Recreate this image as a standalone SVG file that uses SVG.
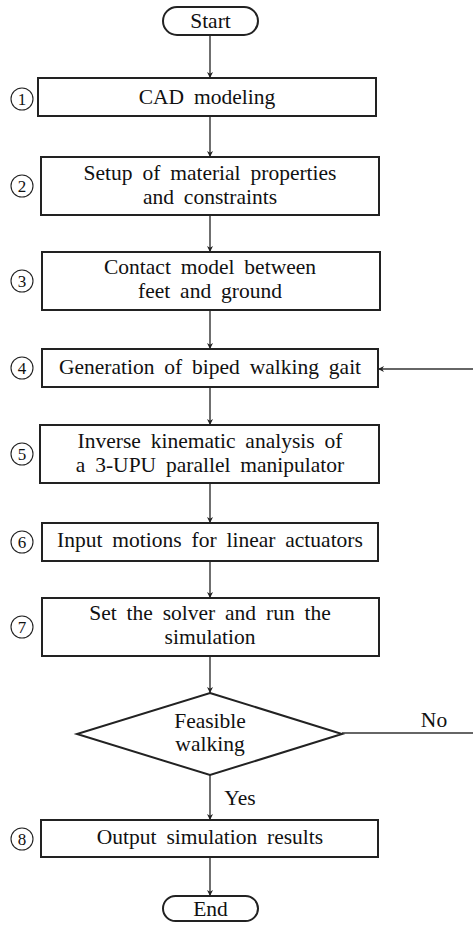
<svg xmlns="http://www.w3.org/2000/svg" width="473" height="925" viewBox="0 0 473 925">
<style>
.box{fill:#fff;stroke:#222;stroke-width:2}
.t{font-size:21.5px;fill:#111;text-anchor:middle;word-spacing:4.5px}
.n{font-size:17px;fill:#111;text-anchor:middle}
.nc{fill:none;stroke:#222;stroke-width:1.1}
.c{stroke:#333;stroke-width:1.4;fill:none}
</style>
<defs>
<marker id="ah" viewBox="0 0 10 10" refX="10" refY="5" markerWidth="6" markerHeight="12" markerUnits="userSpaceOnUse" orient="auto">
<path d="M0,0 L10,5 L0,10 L3,5 Z" fill="#222"/>
</marker>
</defs>
<g font-family="'Liberation Serif', 'DejaVu Serif', 'Times New Roman', serif">
<g id="connectors">
<line class="c" x1="210" y1="35" x2="210" y2="78" marker-end="url(#ah)"/>
<line class="c" x1="210" y1="116" x2="210" y2="157" marker-end="url(#ah)"/>
<line class="c" x1="210" y1="215" x2="210" y2="252" marker-end="url(#ah)"/>
<line class="c" x1="210" y1="310" x2="210" y2="349" marker-end="url(#ah)"/>
<line class="c" x1="210" y1="387" x2="210" y2="425" marker-end="url(#ah)"/>
<line class="c" x1="210" y1="483" x2="210" y2="523" marker-end="url(#ah)"/>
<line class="c" x1="210" y1="561" x2="210" y2="598" marker-end="url(#ah)"/>
<line class="c" x1="210" y1="656" x2="210" y2="693" marker-end="url(#ah)"/>
<line class="c" x1="210" y1="775" x2="210" y2="820" marker-end="url(#ah)"/>
<line class="c" x1="210" y1="857" x2="210" y2="896" marker-end="url(#ah)"/>
<line class="c" x1="342" y1="733" x2="473" y2="733"/>
<line class="c" x1="473" y1="369" x2="378" y2="369" marker-end="url(#ah)"/>
<text class="t" x="434" y="727">No</text>
<text class="t" x="240" y="805">Yes</text>
</g>
<g id="start">
<rect class="box" x="163" y="7" width="95" height="28" rx="14"/>
<text class="t" x="210.5" y="28">Start</text>
</g>
<g id="step1">
<circle class="nc" cx="22" cy="99" r="11"/><text class="n" x="22" y="105">1</text>
<rect class="box" x="38" y="78" width="338" height="38"/>
<text class="t" x="207" y="104">CAD modeling</text>
</g>
<g id="step2">
<circle class="nc" cx="22" cy="186" r="11"/><text class="n" x="22" y="192">2</text>
<rect class="box" x="41" y="157" width="338" height="58"/>
<text class="t" x="210" y="180">Setup of material properties</text>
<text class="t" x="210" y="204">and constraints</text>
</g>
<g id="step3">
<circle class="nc" cx="22" cy="281" r="11"/><text class="n" x="22" y="287">3</text>
<rect class="box" x="42" y="252" width="338" height="58"/>
<text class="t" x="210" y="274">Contact model between</text>
<text class="t" x="210" y="298">feet and ground</text>
</g>
<g id="step4">
<circle class="nc" cx="22" cy="368" r="11"/><text class="n" x="22" y="374">4</text>
<rect class="box" x="42" y="349" width="336" height="38"/>
<text class="t" x="210" y="374">Generation of biped walking gait</text>
</g>
<g id="step5">
<circle class="nc" cx="22" cy="454" r="11"/><text class="n" x="22" y="460">5</text>
<rect class="box" x="40" y="425" width="339" height="58"/>
<text class="t" x="210" y="448">Inverse kinematic analysis of</text>
<text class="t" x="210" y="472">a 3-UPU parallel manipulator</text>
</g>
<g id="step6">
<circle class="nc" cx="22" cy="542" r="11"/><text class="n" x="22" y="548">6</text>
<rect class="box" x="42" y="523" width="336" height="38"/>
<text class="t" x="210" y="547">Input motions for linear actuators</text>
</g>
<g id="step7">
<circle class="nc" cx="22" cy="627" r="11"/><text class="n" x="22" y="633">7</text>
<rect class="box" x="42" y="598" width="337" height="58"/>
<text class="t" x="210" y="620">Set the solver and run the</text>
<text class="t" x="210" y="644">simulation</text>
</g>
<g id="decision">
<polygon class="box" points="210,693 342,734 210,775 77,734"/>
<text class="t" x="210" y="728">Feasible</text>
<text class="t" x="210" y="751">walking</text>
</g>
<g id="step8">
<circle class="nc" cx="22" cy="839" r="11"/><text class="n" x="22" y="845">8</text>
<rect class="box" x="41" y="820" width="337" height="37"/>
<text class="t" x="210" y="844">Output simulation results</text>
</g>
<g id="end">
<rect class="box" x="163" y="896" width="95" height="25" rx="12.5"/>
<text class="t" x="210.5" y="916">End</text>
</g>
</g>
</svg>
